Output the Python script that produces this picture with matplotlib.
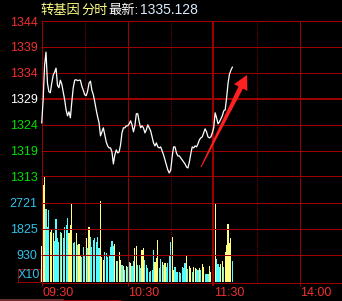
import numpy as np
import matplotlib
matplotlib.use("Agg")
import matplotlib.pyplot as plt
from matplotlib.lines import Line2D
from matplotlib.patches import Polygon, Rectangle
import matplotlib.transforms as mtransforms

plt.rcParams['font.family'] = ['Liberation Sans', 'Noto Sans CJK SC', 'DejaVu Sans']

# ---- data (minutes since 09:30, trading time) ----
price = [
    1324.0, 1328.6, 1335.5, 1338.1, 1331.9, 1330.2, 1330.0, 1331.9, 1333.5, 1334.1,
    1334.9, 1331.5, 1331.0, 1332.5, 1331.7, 1330.2, 1328.6, 1326.6, 1325.4, 1326.2,
    1325.0, 1328.2, 1331.0, 1332.5, 1332.6, 1332.4, 1332.5, 1332.5, 1331.3, 1330.5,
    1329.6, 1329.4, 1330.3, 1331.9, 1332.3, 1330.5, 1329.6, 1328.2, 1326.6, 1325.2,
    1324.0, 1321.4, 1322.2, 1323.0, 1321.6, 1320.2, 1319.4, 1319.0, 1319.0, 1318.2,
    1315.8, 1317.6, 1318.6, 1318.0, 1318.2, 1319.6, 1322.0, 1323.0, 1323.0, 1323.4,
    1323.4, 1323.8, 1324.4, 1323.6, 1322.2, 1323.4, 1325.8, 1325.8, 1324.2, 1323.0,
    1323.4, 1323.0, 1322.0, 1322.6, 1323.6, 1323.0, 1322.4, 1321.2, 1320.0, 1319.4,
    1320.0, 1319.2, 1319.0, 1319.2, 1318.4, 1317.6, 1316.6, 1315.6, 1314.6, 1314.0,
    1314.6, 1317.2, 1319.2, 1319.2, 1318.0, 1317.4, 1317.4, 1317.0, 1316.6, 1316.2,
    1315.8, 1315.2, 1315.0, 1316.2, 1317.8, 1319.2, 1319.0, 1319.4, 1319.2, 1319.8,
    1320.6, 1321.0, 1321.2, 1322.0, 1322.8, 1322.2, 1321.2, 1321.0, 1321.2, 1322.0,
    1323.0, 1326.0, 1325.0, 1323.8, 1324.2, 1324.8, 1325.4, 1326.4, 1326.6, 1329.0,
    1331.9, 1333.7, 1334.5, 1335.1,
]

volume = [
    1240, 3340, 4200, 2510, 1900, 2480, 1730, 1790, 1690, 1410,
    2170, 1510, 1390, 1730, 1690, 1510, 1900, 1960, 2200, 1690,
    1960, 2670, 1340, 1390, 1690, 1270, 1310, 930, 870, 1220,
    930, 1510, 1180, 1880, 1560, 1220, 1450, 1510, 1390, 1560,
    1180, 2790, 870, 760, 1040, 990, 870, 930, 1220, 1410,
    1250, 1310, 720, 720, 1020, 760, 590, 560, 410, 550,
    530, 700, 660, 560, 720, 1160, 1250, 590, 590, 490,
    1100, 1160, 760, 590, 470, 330, 390, 410, 1100, 680,
    820, 1450, 490, 780, 700, 590, 640, 530, 640, 930,
    1370, 1560, 410, 530, 360, 330, 330, 320, 530, 490,
    640, 930, 450, 560, 490, 330, 530, 470, 450, 410,
    470, 400, 610, 530, 280, 270, 270, 550, 360, 550,
    360, 2690, 790, 620, 530, 610, 720, 530, 1040, 1270,
    2000, 1330, 1530, 720,
]

# W = opening, Y = up, C = down
bar_kind = ("WYYCCCYYYC" "CCCCYCCCCY" "YYCCYCYYCC" "CYCYCCCCCC" "CYYYCCCCCC"
            "CYYCYYCYCY" "CCYCCYYCCC" "YYCCCCCCCY" "YYCCYCYCCC" "CYYCCCCCCC"
            "CYCYYCYYCC" "YCYYCCCYYY" "YYCCCYYCYY" "YYYC")

prev_close = 1328.8
half_range = 15.5
price_labels = ['1344', '1339', '1334', '1329', '1324', '1319', '1313']
vol_ticks = [930, 1825, 2721]
time_ticks = [0, 60, 120, 180]
time_labels = ['09:30', '10:30', '11:30', '14:00']
half_hours = [30, 90, 150, 210]
last_price = '1335.128'

# ---- style ----
W, H = 342, 301
grid_c = '#9c0000'
dot_c = '#b80000'
red_c = '#f03030'
green_c = '#00e000'
cyan_lbl = '#30c0e8'
bar_colors = {'W': '#ffffd0', 'Y': '#ffff80', 'C': '#54fcfc'}
fs = 9
IDT = mtransforms.IdentityTransform()


def snap(v, w):
    # put a w-pixel line exactly on the pixel grid
    return np.floor(v) + 0.5 if w % 2 else np.round(v)


def pix_line(ax, xs, ys, w, color, dashes=None, z=2.5):
    ln = Line2D(xs, ys, transform=IDT, lw=w * 0.72, color=color, clip_on=False,
                zorder=z, solid_capstyle='butt', dash_capstyle='butt')
    if dashes:
        ln.set_dashes(dashes)
    ax.add_line(ln)


def hline(ax, yval, w, color=grid_c, z=2.5):
    y = snap(ax.transData.transform((0, yval))[1], w)
    pix_line(ax, [ax.bbox.x0, ax.bbox.x1], [y, y], w, color, z=z)


def vline(ax, xval, w, color=grid_c, dashes=None, ext=0, z=2.5):
    xd = snap(ax.transData.transform((xval, 0))[0], w)
    pix_line(ax, [xd, xd], [ax.bbox.y0 - ext, ax.bbox.y1], w, color, dashes, z)


fig = plt.figure(figsize=(W / 100, H / 100), dpi=100, facecolor='black')
ax_p = fig.add_axes([41 / W, 1 - 176.5 / H, 301 / W, 155.5 / H], facecolor='black')
ax_v = fig.add_axes([41 / W, 1 - 282 / H, 301 / W, 105.5 / H], facecolor='black', sharex=ax_p)

x = np.arange(len(price)) + 0.5
ax_p.set_xlim(0, 210)
ax_p.set_ylim(prev_close - half_range, prev_close + half_range)
ax_v.set_ylim(0, 3630)
for ax in (ax_p, ax_v):
    for s in ax.spines.values():
        s.set_visible(False)

# data
ax_p.plot(x, price, color='white', lw=0.9, zorder=3)
ax_v.bar(x, volume, width=0.8, color=[bar_colors[k] for k in bar_kind],
         linewidth=0, zorder=2)

# grid, pixel aligned
price_ticks = prev_close + np.linspace(half_range, -half_range, 7)
for t in price_ticks[:-1]:
    hline(ax_p, t, 2 if abs(t - prev_close) < 0.01 else 1)
hline(ax_p, price_ticks[-1], 3, z=5)
for t in vol_ticks:
    hline(ax_v, t, 1, z=4)
hline(ax_v, 0, 1, z=4)

for ax, ext, z in ((ax_p, 0, 2.5), (ax_v, 4, 4)):
    for m in time_ticks:
        vline(ax, m, 2 if m == 120 else 1, ext=ext, z=z)
    for m in half_hours:
        vline(ax, m, 1, color=dot_c, dashes=(0.72, 1.44), z=z)

# ticks and labels
ax_p.set_yticks(price_ticks, price_labels)
ax_p.tick_params(axis='y', length=0, pad=2.5, labelsize=fs)
lbl_colors = [red_c] * 3 + ['white'] + [green_c] * 3
for lab, c in zip(ax_p.get_yticklabels(), lbl_colors):
    lab.set_color(c)
ax_p.tick_params(axis='x', length=0, labelbottom=False)

ax_v.set_yticks(vol_ticks, [str(v) for v in vol_ticks])
ax_v.tick_params(axis='y', length=0, pad=2.5, labelsize=fs, labelcolor=cyan_lbl)
ax_v.set_xticks(time_ticks, time_labels)
ax_v.tick_params(axis='x', length=0, pad=3.3, labelsize=fs, labelcolor=red_c)
shift = mtransforms.ScaledTranslation(1.5 / 100, 0, fig.dpi_scale_trans)
for lab in ax_v.get_xticklabels():
    lab.set_horizontalalignment('left')
    lab.set_transform(lab.get_transform() + shift)

# X10 unit box
fig.patches.append(Rectangle((17.5 / W, 1 - 281.5 / H), 22.5 / W, 13 / H,
                             transform=fig.transFigure, fill=False,
                             edgecolor=grid_c, lw=0.72, snap=True))
fig.text(28.8 / W, 1 - 275.3 / H, 'X10', color=cyan_lbl, fontsize=fs,
         ha='center', va='center')

# header
ty = 1 - 10.5 / H
fig.text(40 / W, ty, '转基因', color='#ffff88', fontsize=9.5, va='center')
fig.text(81 / W, ty, '分时', color='#ffff88', fontsize=9.5, va='center')
fig.text(108 / W, ty, '最新:', color='white', fontsize=9.5, va='center')
fig.text(140 / W, ty, last_price, color='#d8ecff', fontsize=10, va='center')

# red arrow annotation (pixel space)
tail = np.array([201.0, 167.0])
tip = np.array([247.0, 75.0])
d = (tip - tail) / np.linalg.norm(tip - tail)
n = np.array([-d[1], d[0]])
base = tip - 14 * d
pts = [tail - 0.5 * n, base - 2.5 * n, base - 7.5 * n, tip,
       base + 7.5 * n, base + 2.5 * n, tail + 0.5 * n]
pts = [(p[0] / W, 1 - p[1] / H) for p in pts]
fig.patches.append(Polygon(pts, closed=True, transform=fig.transFigure,
                           facecolor='#ff2020', edgecolor='none', zorder=10))

# bottom tab strip
fig.lines.append(Line2D([0, 63], [1.5, 1.5], color='#6a3030', lw=1.44,
                        transform=IDT))
fig.lines.append(Line2D([63, 120], [1.5, 1.5], color=grid_c, lw=0.72,
                        transform=IDT))

fig.savefig('out.png', dpi=100, facecolor='black')
